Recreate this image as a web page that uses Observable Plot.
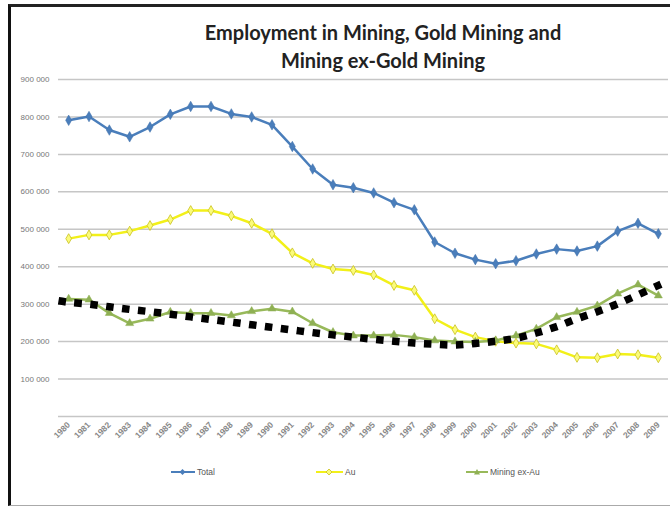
<!DOCTYPE html>
<html>
<head>
<meta charset="utf-8">
<script src="https://cdn.jsdelivr.net/npm/d3@7"></script>
<script src="https://cdn.jsdelivr.net/npm/@observablehq/plot@0.6"></script>
<style>
  html, body { margin: 0; padding: 0; background: #fff; overflow: hidden; }
  #wrap { position: relative; width: 670px; height: 507px; overflow: hidden; background: #fff; }
  #frame { position: absolute; left: 8px; top: 4px; width: 662px; height: 502px;
           border-left: 3px solid #111; border-top: 3px solid #222; border-bottom: 1px solid #aaa; box-sizing: border-box; }
  #title { position: absolute; left: 173px; width: 420px; top: 18px; text-align: center;
           font-family: Lato, "Open Sans", sans-serif; font-weight: bold; font-size: 20px; line-height: 28px; color: #222; }
  #chart { position: absolute; left: 0; top: 70px; }
  .leg { position: absolute; top: 465px; height: 14px; font-family: "Liberation Sans", Arial, sans-serif;
         font-size: 8.5px; color: #555; display: flex; align-items: center; gap: 2px; }
</style>
</head>
<body>
<div id="wrap">
  <div id="frame"></div>
  <div id="title">Employment in Mining, Gold Mining and<br>Mining ex-Gold Mining</div>
  <div id="chart"></div>
  <div id="legend"></div>
</div>
<script>
const years = [1980, 1981, 1982, 1983, 1984, 1985, 1986, 1987, 1988, 1989,
               1990, 1991, 1992, 1993, 1994, 1995, 1996, 1997, 1998, 1999,
               2000, 2001, 2002, 2003, 2004, 2005, 2006, 2007, 2008, 2009];
const total = [791000, 801000, 765000, 747000, 773000, 807000, 828000, 828000, 808000, 800000,
               779000, 721000, 661000, 619000, 611000, 597000, 571000, 552000, 466000, 436000,
               419000, 408000, 416000, 434000, 447000, 442000, 455000, 495000, 516000, 488000];
const au = [475000, 485000, 485000, 495000, 510000, 526000, 550000, 550000, 536000, 516000,
            488000, 437000, 409000, 394000, 390000, 378000, 350000, 337000, 261000, 232000,
            212000, 201000, 196000, 194000, 178000, 158000, 157000, 167000, 165000, 157000];
const exAu = [314000, 312000, 276000, 249000, 261000, 279000, 276000, 276000, 270000, 281000,
              288000, 280000, 249000, 225000, 216000, 216000, 218000, 212000, 203000, 200000,
              199000, 203000, 216000, 234000, 265000, 279000, 296000, 328000, 352000, 323000];
// dotted trend curve
const trendX = [1979.5, 1980, 1981, 1982, 1983, 1984, 1985, 1986, 1987, 1988, 1989,
                1990, 1991, 1992, 1993, 1994, 1995, 1996, 1997, 1998, 1999,
                2000, 2001, 2002, 2003, 2004, 2005, 2006, 2007, 2008, 2009, 2009.5];
const trendY = [309000, 305000, 300000, 293000, 286000, 280000, 273000, 266000, 259000, 252000, 245000,
                238000, 231000, 224000, 218000, 212000, 206000, 201000, 196000, 193000, 191000,
                195000, 201000, 209000, 223000, 240000, 261000, 280000, 301000, 325000, 350000, 362000];
const yTicks = [100000, 200000, 300000, 400000, 500000, 600000, 700000, 800000, 900000];
const gridLines = [0, 100000, 200000, 300000, 400000, 500000, 600000, 700000, 800000, 900000];
const seriesNames = ["Total", "Au", "Mining ex-Au"];

const colors = { "Total": "#4a7ebb", "Au": "#f2f019", "Mining ex-Au": "#98b95a" };

const mk = (vals) => years.map((y, i) => ({ year: y, value: vals[i] }));
const dTotal = mk(total), dAu = mk(au), dEx = mk(exAu);
const dTrend = trendX.map((x, i) => ({ year: x, value: trendY[i] }));

const fmt = d => d3.format(",")(d).replace(/,/g, " ");

const chart = Plot.plot({
  width: 670, height: 380,
  marginTop: 9, marginBottom: 34, marginLeft: 58, marginRight: 2,
  x: { domain: [1979.5, 2009.5], label: null },
  y: { domain: [0, 900000], label: null },
  style: { fontFamily: "'Liberation Sans', Arial, sans-serif", color: "#777", background: "transparent" },
  marks: [
    Plot.ruleY(gridLines, { stroke: "#c6c6c6", strokeWidth: 1.5 }),
    Plot.axisY(yTicks, { tickSize: 0, tickPadding: 9, tickFormat: fmt, fontSize: 8 }),
    Plot.axisX(years, { tickSize: 0, tickPadding: 7, tickRotate: -45, tickFormat: d => String(d), fontSize: 8.5, fontWeight: "bold", fill: "#888" }),
    Plot.line(dTotal, { x: "year", y: "value", stroke: colors["Total"], strokeWidth: 2.5 }),
    Plot.dot(dTotal, { x: "year", y: "value", symbol: "diamond", r: 3.2, fill: colors["Total"], stroke: "#3f6ea8", strokeWidth: 0.5 }),
    Plot.line(dAu, { x: "year", y: "value", stroke: colors["Au"], strokeWidth: 2.5 }),
    Plot.dot(dAu, { x: "year", y: "value", symbol: "diamond", r: 3, fill: "#fbfb7a", stroke: "#c9c21e", strokeWidth: 0.8 }),
    Plot.line(dEx, { x: "year", y: "value", stroke: colors["Mining ex-Au"], strokeWidth: 2.5 }),
    Plot.dot(dEx, { x: "year", y: "value", symbol: "triangle", r: 3, fill: "#8fb054", stroke: "#8fb054", strokeWidth: 0.5 }),
    Plot.line(dTrend, { x: "year", y: "value", curve: "catmull-rom", stroke: "#000", strokeWidth: 7.5, strokeDasharray: "7.5,8.5", strokeLinecap: "butt" })
  ]
});
document.getElementById("chart").appendChild(chart);

// legend
const legPos = { "Total": 171, "Au": 316, "Mining ex-Au": 466 };
const legSym = {
  "Total": `<path d="M11.5,3 L14.5,6 L11.5,9 L8.5,6 Z" fill="#4a7ebb"/>`,
  "Au": `<path d="M13,3 L16,6 L13,9 L10,6 Z" fill="#fbfb7a" stroke="#c9c21e" stroke-width="0.8"/>`,
  "Mining ex-Au": `<path d="M11,3 L14,8.5 L8,8.5 Z" fill="#8fb054"/>`
};
const legW = { "Total": 24, "Au": 27, "Mining ex-Au": 22 };
const leg = document.getElementById("legend");
seriesNames.forEach(name => {
  const div = document.createElement("div");
  div.className = "leg";
  div.style.left = legPos[name] + "px";
  const w = legW[name];
  div.innerHTML = `<svg width="${w}" height="12"><line x1="0" x2="${w}" y1="6" y2="6" stroke="${colors[name]}" stroke-width="2"/>${legSym[name]}</svg><span>${name}</span>`;
  leg.appendChild(div);
});
</script>
</body>
</html>
